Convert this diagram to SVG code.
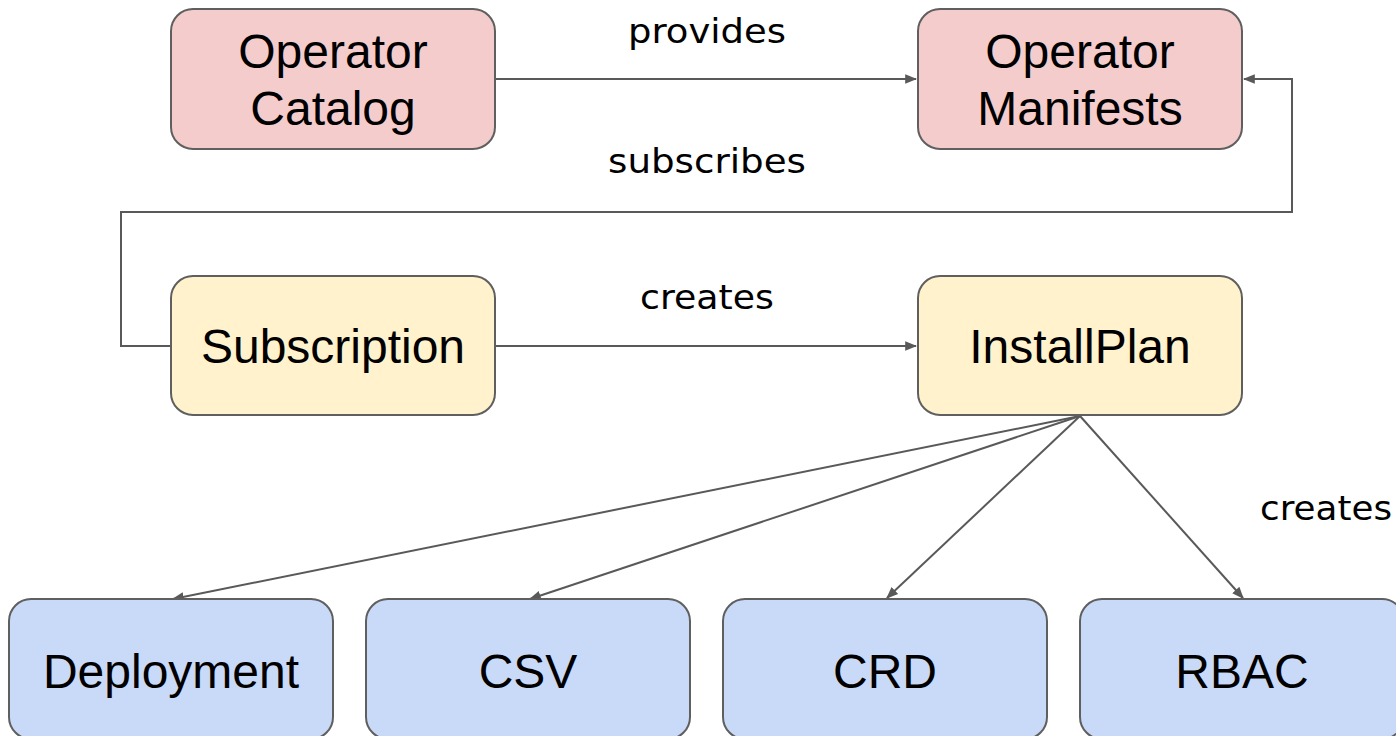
<svg xmlns="http://www.w3.org/2000/svg" width="1396" height="736" viewBox="0 0 1396 736">
<style>
.box{stroke:#5f5f5f;stroke-width:2}
.pink{fill:#f4cccc}.yel{fill:#fff2cc}.blue{fill:#c9daf8}
.nt{font-family:"Liberation Sans",Arial,sans-serif;font-size:48px;fill:#000;text-anchor:middle}
.lbl{font-family:"DejaVu Sans","Open Sans",sans-serif;font-size:33px;fill:#000;text-anchor:middle}
.ln{stroke:#595959;stroke-width:2;fill:none;marker-end:url(#ah)}
</style>
<defs>
<marker id="ah" viewBox="0 0 10 10" refX="9" refY="5" markerWidth="6" markerHeight="6" markerUnits="strokeWidth" orient="auto">
<path d="M0,1 L10,5 L0,9 Z" fill="#595959"/>
</marker>
</defs>
<rect width="1396" height="736" fill="#fff"/>
<g id="connectors">
<line class="ln" x1="495" y1="79" x2="916" y2="79"/>
<polyline class="ln" points="171,346 121,346 121,212 1292,212 1292,79 1244,79"/>
<line class="ln" x1="495" y1="346" x2="916" y2="346"/>
<line class="ln" x1="1080" y1="416" x2="173" y2="599"/>
<line class="ln" x1="1080" y1="416" x2="530" y2="599"/>
<line class="ln" x1="1080" y1="416" x2="887" y2="598"/>
<line class="ln" x1="1080" y1="416" x2="1243" y2="598"/>
<text class="lbl" x="707" y="43" textLength="158" lengthAdjust="spacingAndGlyphs">provides</text>
<text class="lbl" x="707" y="173" textLength="198" lengthAdjust="spacingAndGlyphs">subscribes</text>
<text class="lbl" x="707" y="309" textLength="134" lengthAdjust="spacingAndGlyphs">creates</text>
<text class="lbl" x="1326" y="520" textLength="132" lengthAdjust="spacingAndGlyphs">creates</text>
</g>
<g id="operator-catalog">
<rect class="box pink" x="171" y="9" width="324" height="140" rx="22"/>
<text class="nt" x="333" y="68">Operator</text>
<text class="nt" x="333" y="125">Catalog</text>
</g>
<g id="operator-manifests">
<rect class="box pink" x="918" y="9" width="324" height="140" rx="22"/>
<text class="nt" x="1080" y="68">Operator</text>
<text class="nt" x="1080" y="125">Manifests</text>
</g>
<g id="subscription">
<rect class="box yel" x="171" y="276" width="324" height="139" rx="22"/>
<text class="nt" x="333" y="363">Subscription</text>
</g>
<g id="installplan">
<rect class="box yel" x="918" y="276" width="324" height="139" rx="22"/>
<text class="nt" x="1080" y="363">InstallPlan</text>
</g>
<g id="deployment">
<rect class="box blue" x="9" y="599" width="324" height="140" rx="22"/>
<text class="nt" x="171" y="688">Deployment</text>
</g>
<g id="csv">
<rect class="box blue" x="366" y="599" width="324" height="140" rx="22"/>
<text class="nt" x="528" y="688">CSV</text>
</g>
<g id="crd">
<rect class="box blue" x="723" y="599" width="324" height="140" rx="22"/>
<text class="nt" x="885" y="688">CRD</text>
</g>
<g id="rbac">
<rect class="box blue" x="1080" y="599" width="324" height="140" rx="22"/>
<text class="nt" x="1242" y="688">RBAC</text>
</g>
</svg>
